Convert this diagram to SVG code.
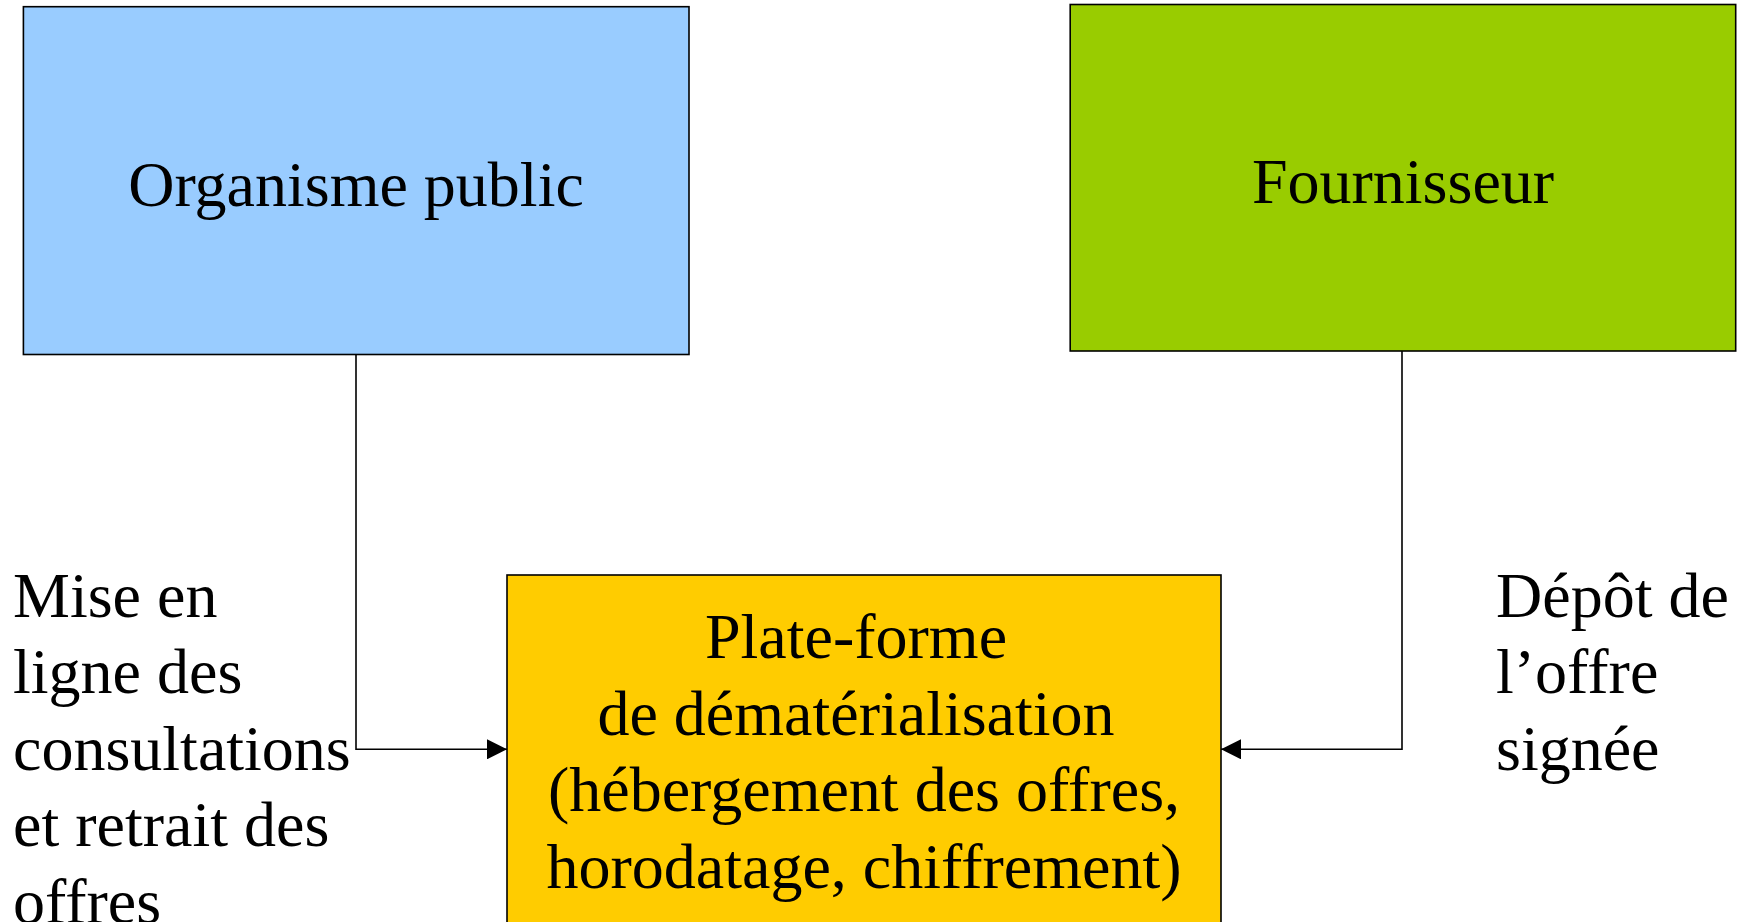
<svg xmlns="http://www.w3.org/2000/svg" width="1748" height="922" viewBox="0 0 1748 922">
<style>
.box{stroke:#000;stroke-width:1.6}
.t{font-family:"Liberation Serif","Times New Roman",serif;font-size:64px;fill:#000}
.c{text-anchor:middle}
.conn{fill:none;stroke:#000;stroke-width:1.6}
</style>
<defs>
<marker id="arr" markerWidth="20" markerHeight="20" refX="20" refY="10" orient="auto" markerUnits="userSpaceOnUse">
<path d="M0,0 L20,10 L0,20 z" fill="#000"/>
</marker>
</defs>
<rect width="1748" height="922" fill="#fff"/>
<g id="organisme">
<rect class="box" x="23.4" y="6.7" width="665.6" height="347.8" fill="#99CCFF"/>
<text class="t c" x="356" y="206">Organisme public</text>
</g>
<g id="fournisseur">
<rect class="box" x="1070.2" y="4.5" width="665.5" height="346.5" fill="#99CC00"/>
<text class="t c" x="1403" y="203">Fournisseur</text>
</g>
<g id="plateforme">
<rect class="box" x="507" y="575" width="714" height="360" fill="#FFCC00"/>
<text class="t c" x="856" y="658">Plate-forme</text>
<text class="t c" x="856" y="734.5">de dématérialisation</text>
<text class="t c" x="864" y="811">(hébergement des offres,</text>
<text class="t c" x="864" y="887.5">horodatage, chiffrement)</text>
</g>
<g id="connectors">
<path class="conn" d="M356,354.5 V749.3 H507" marker-end="url(#arr)"/>
<path class="conn" d="M1402,351 V749.3 H1221" marker-end="url(#arr)"/>
</g>
<g id="label-left">
<text class="t" x="13" y="617">Mise en</text>
<text class="t" x="13" y="693">ligne des</text>
<text class="t" x="13" y="770">consultations</text>
<text class="t" x="13" y="846">et retrait des</text>
<text class="t" x="13" y="923">offres</text>
</g>
<g id="label-right">
<text class="t" x="1496" y="617">Dépôt de</text>
<text class="t" x="1496" y="693">l’offre</text>
<text class="t" x="1496" y="770">signée</text>
</g>
</svg>
